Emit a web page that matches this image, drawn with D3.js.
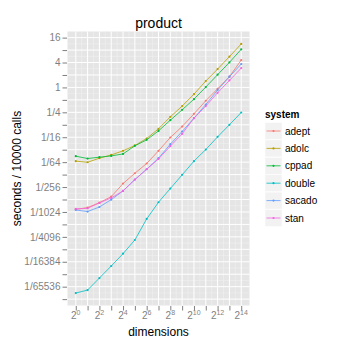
<!DOCTYPE html>
<html>
<head>
<meta charset="utf-8">
<script src="https://cdn.jsdelivr.net/npm/d3@7"></script>
<style>
  body { margin: 0; background: #fff; }
  text { font-family: "Liberation Sans", Arial, sans-serif; }
</style>
</head>
<body>
<div id="chart"></div>
<script>
// dimensions (x) and timings in seconds / 10000 calls (y), log2 scales
var dims = [1, 2, 4, 8, 16, 32, 64, 128, 256, 512, 1024, 2048, 4096, 8192, 16384];
var systems = ["adept", "adolc", "cppad", "double", "sacado", "stan"];
var colors = ["#F8766D", "#B79F00", "#00BA38", "#00BFC4", "#619CFF", "#F564E3"];

var adept  = [0.0011296, 0.0012447, 0.001642, 0.002291, 0.004743, 0.00843, 0.01448, 0.02936, 0.06164, 0.1134, 0.2300, 0.4763, 0.9266, 1.815, 4.595];
var adolc  = [0.01652, 0.01552, 0.01950, 0.02336, 0.02936, 0.03956, 0.05831, 0.1001, 0.1948, 0.3536, 0.6878, 1.424, 2.770, 5.54, 11.24];
var cppad  = [0.02179, 0.01910, 0.02062, 0.02210, 0.02469, 0.03874, 0.05403, 0.0890, 0.1616, 0.2872, 0.5212, 1.021, 2.028, 4.028, 8.34];
var dbl    = [0.00001071, 0.00001265, 0.00002468, 0.00004823, 0.0000958, 0.0002053, 0.000662, 0.001677, 0.003594, 0.00770, 0.01652, 0.03147, 0.0638, 0.125, 0.248];
var sacado = [0.0010912, 0.0009971, 0.0012886, 0.001940, 0.003151, 0.005921, 0.010525, 0.01950, 0.04239, 0.08597, 0.1805, 0.3869, 0.8645, 1.815, 3.681];
var stan   = [0.0011533, 0.0011940, 0.0016086, 0.002137, 0.003151, 0.005921, 0.010525, 0.01871, 0.03794, 0.07536, 0.1805, 0.3536, 0.7423, 1.474, 2.928];

var yTickLabels = ["16", "4", "1", "1/4", "1/16", "1/64", "1/256", "1/1024", "1/4096", "1/16384", "1/65536"];
var xTickExps = [0, 2, 4, 6, 8, 10, 12, 14];

var series = [adept, adolc, cppad, dbl, sacado, stan];

var width = 346, height = 346;
var panel = {left: 67.5, right: 249.5, top: 31.5, bottom: 305.5};

var svg = d3.select("#chart").append("svg")
    .attr("width", width)
    .attr("height", height);

var log2 = Math.log2;
var xExt = d3.extent(dims).map(log2);
var yExt = d3.extent(d3.merge(series)).map(log2);
var xPad = (xExt[1] - xExt[0]) * 0.05, yPad = (yExt[1] - yExt[0]) * 0.05;

var x = d3.scaleLog().base(2)
    .domain([Math.pow(2, xExt[0] - xPad), Math.pow(2, xExt[1] + xPad)])
    .range([panel.left, panel.right]);
var y = d3.scaleLog().base(2)
    .domain([Math.pow(2, yExt[0] - yPad), Math.pow(2, yExt[1] + yPad)])
    .range([panel.bottom, panel.top]);

// panel background
svg.append("rect")
    .attr("x", panel.left).attr("y", panel.top)
    .attr("width", panel.right - panel.left)
    .attr("height", panel.bottom - panel.top)
    .attr("fill", "#E5E5E5");

// tick positions: every power of two inside the panel
var xTicks = d3.range(Math.ceil(xExt[0] - xPad), Math.floor(xExt[1] + xPad) + 1);
var yTicks = d3.range(Math.ceil(yExt[0] - yPad), Math.floor(yExt[1] + yPad) + 1);

var grid = svg.append("g");
// minor grid halfway between
xTicks.slice(0, -1).forEach(function(e) {
  grid.append("line")
      .attr("x1", x(Math.pow(2, e + 0.5))).attr("x2", x(Math.pow(2, e + 0.5)))
      .attr("y1", panel.top).attr("y2", panel.bottom)
      .attr("stroke", "#F2F2F2").attr("stroke-width", 0.5);
});
yTicks.concat([yTicks[0] - 1]).forEach(function(e) {
  var yy = y(Math.pow(2, e + 0.5));
  if (yy < panel.top || yy > panel.bottom) return;
  grid.append("line")
      .attr("y1", yy).attr("y2", yy)
      .attr("x1", panel.left).attr("x2", panel.right)
      .attr("stroke", "#F2F2F2").attr("stroke-width", 0.5);
});
xTicks.forEach(function(e) {
  grid.append("line")
      .attr("x1", x(Math.pow(2, e))).attr("x2", x(Math.pow(2, e)))
      .attr("y1", panel.top).attr("y2", panel.bottom)
      .attr("stroke", "#fff").attr("stroke-width", 1);
});
yTicks.forEach(function(e) {
  grid.append("line")
      .attr("y1", y(Math.pow(2, e))).attr("y2", y(Math.pow(2, e)))
      .attr("x1", panel.left).attr("x2", panel.right)
      .attr("stroke", "#fff").attr("stroke-width", 1);
});

// y axis
var yLabelMap = {};
yTickLabels.forEach(function(l, i) { yLabelMap[4 - 2 * i] = l; });
var yAxis = svg.append("g")
    .attr("transform", "translate(" + (panel.left - 0.5) + ",0)")
    .call(d3.axisLeft(y)
      .tickValues(yTicks.map(function(e) { return Math.pow(2, e); }))
      .tickFormat(function(d) { var l = yLabelMap[Math.round(log2(d))]; return l || ""; })
      .tickSize(4.5).tickPadding(2));
yAxis.select(".domain").remove();
yAxis.selectAll("line").attr("stroke", "#7F7F7F");
yAxis.selectAll("text").attr("fill", "#7F7F7F").style("font-size", "10px")
    .style("font-family", "'Liberation Sans', Arial, sans-serif");

// x axis
var xAxis = svg.append("g")
    .attr("transform", "translate(0," + (panel.bottom + 0.5) + ")")
    .call(d3.axisBottom(x)
      .tickValues(xTicks.map(function(e) { return Math.pow(2, e); }))
      .tickFormat("")
      .tickSize(4.5));
xAxis.select(".domain").remove();
xAxis.selectAll("line").attr("stroke", "#7F7F7F");

var xl = svg.append("g").selectAll("text")
    .data(xTickExps)
    .enter().append("text")
    .attr("x", function(e) { return x(Math.pow(2, e)); })
    .attr("y", 318.5)
    .attr("text-anchor", "middle")
    .attr("fill", "#7F7F7F")
    .style("font-size", "10px");
xl.append("tspan").text("2");
xl.append("tspan").attr("dy", -4).style("font-size", "7px").text(function(e) { return e; });

// lines and points
series.forEach(function(s, i) {
  var pts = dims.map(function(d, j) { return [d, s[j]]; });
  svg.append("path")
      .datum(pts)
      .attr("fill", "none")
      .attr("stroke", colors[i])
      .attr("stroke-width", 0.8)
      .attr("d", d3.line().x(function(d) { return x(d[0]); }).y(function(d) { return y(d[1]); }));
  svg.append("g").selectAll("circle")
      .data(pts)
      .enter().append("circle")
      .attr("cx", function(d) { return x(d[0]); })
      .attr("cy", function(d) { return y(d[1]); })
      .attr("r", 1.1)
      .attr("fill", colors[i]);
});

// titles
svg.append("text")
    .attr("x", (panel.left + panel.right) / 2).attr("y", 28)
    .attr("text-anchor", "middle")
    .style("font-size", "14px")
    .text("product");
svg.append("text")
    .attr("x", (panel.left + panel.right) / 2).attr("y", 336)
    .attr("text-anchor", "middle")
    .style("font-size", "12px")
    .text("dimensions");
svg.append("text")
    .attr("transform", "translate(21," + ((panel.top + panel.bottom) / 2) + ") rotate(-90)")
    .attr("text-anchor", "middle")
    .style("font-size", "12px")
    .text("seconds / 10000 calls");

// legend
var legend = svg.append("g").attr("transform", "translate(265,0)");
legend.append("text")
    .attr("x", 0).attr("y", 118)
    .style("font-size", "10px").style("font-weight", "bold")
    .text("system");
var items = legend.selectAll("g.item")
    .data(systems)
    .enter().append("g")
    .attr("class", "item")
    .attr("transform", function(d, i) { return "translate(0," + (122.5 + i * 17.4) + ")"; });
items.append("rect")
    .attr("width", 17).attr("height", 17)
    .attr("fill", "#F2F2F2")
    .attr("stroke", "#fff").attr("stroke-width", 0.5);
items.append("line")
    .attr("x1", 1.5).attr("x2", 15.5)
    .attr("y1", 8.5).attr("y2", 8.5)
    .attr("stroke", function(d, i) { return colors[i]; })
    .attr("stroke-width", 0.8);
items.append("circle")
    .attr("cx", 8.5).attr("cy", 8.5).attr("r", 1.1)
    .attr("fill", function(d, i) { return colors[i]; });
items.append("text")
    .attr("x", 20).attr("y", 12.2)
    .style("font-size", "10px")
    .text(function(d) { return d; });
</script>
</body>
</html>
